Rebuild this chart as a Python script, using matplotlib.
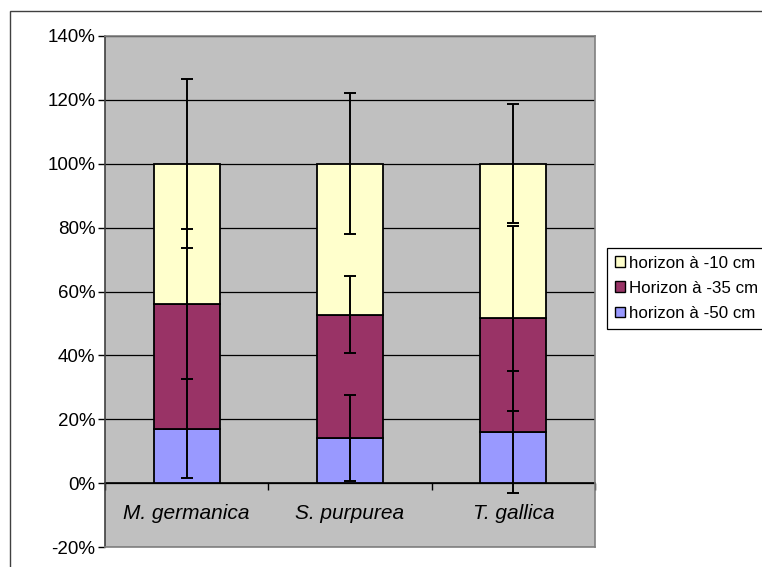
import numpy as np
import matplotlib
matplotlib.use("Agg")
import matplotlib.pyplot as plt
from matplotlib.patches import Rectangle, Patch
from matplotlib.ticker import PercentFormatter

plt.rcParams['font.family'] = ['Liberation Sans', 'DejaVu Sans']
plt.rcParams['axes.unicode_minus'] = False

species = ["M. germanica", "S. purpurea", "T. gallica"]
labels = ["horizon à -50 cm", "Horizon à -35 cm", "horizon à -10 cm"]

# share of each horizon (stacked, sums to 1) and error values
share_50 = [0.171, 0.141, 0.160]
share_35 = [0.391, 0.386, 0.356]
share_10 = [0.438, 0.473, 0.484]
err_50 = [0.156, 0.135, 0.190]
err_35 = [0.235, 0.120, 0.290]
err_10 = [0.265, 0.220, 0.186]

colors = ["#9999FF", "#993366", "#FFFFCC"]
y_ticks = np.arange(-0.2, 1.41, 0.2)

W, H = 762, 567
fig = plt.figure(figsize=(W / 100, H / 100), dpi=100)
ax = fig.add_axes([105 / W, 1 - 547 / H, (595 - 105) / W, (547 - 36) / H])
ax.set_facecolor("#C0C0C0")

x = np.arange(len(species))
shares = [share_50, share_35, share_10]
errs = [err_50, err_35, err_10]
bottom = np.zeros(len(species))
tops = []
for vals, col in zip(shares, colors):
    ax.bar(x, vals, 0.405, bottom=bottom, color=col, edgecolor="black",
           linewidth=1.3, zorder=2)
    bottom = bottom + np.array(vals)
    tops.append(bottom.copy())

for top, e in zip(tops, errs):
    ax.errorbar(x, top, yerr=e, fmt="none", ecolor="black", elinewidth=1.4,
                capsize=4.5, capthick=1.4, zorder=3)

ax.set_xlim(-0.5, 2.5)
ax.set_ylim(-0.2, 1.4)
ax.set_yticks(y_ticks)
ax.yaxis.set_major_formatter(PercentFormatter(1.0, decimals=0))
ax.set_axisbelow(True)
ax.yaxis.grid(True, color="black", linewidth=0.9)
ax.tick_params(axis="y", direction="out", length=5, width=1, pad=2,
               labelsize=13.5, color="black")
ax.tick_params(axis="x", bottom=False, labelbottom=False)

for side in ["top", "right", "bottom"]:
    ax.spines[side].set_color("#808080")
    ax.spines[side].set_linewidth(1.2)
ax.spines["left"].set_color("#404040")
ax.spines["left"].set_linewidth(1.2)

# category axis sits on the 0% line
sec = ax.secondary_xaxis(0, transform=ax.transData)
sec.set_xticks(np.arange(len(species) + 1) - 0.5)
sec.set_xticklabels([])
sec.set_xticks(x, minor=True)
sec.set_xticklabels(species, minor=True, fontstyle="italic", fontsize=15)
sec.tick_params(axis="x", which="major", direction="out", length=5, width=1,
                color="black")
sec.tick_params(axis="x", which="minor", length=0, pad=15)
sec.spines["bottom"].set_color("black")
sec.spines["bottom"].set_linewidth(1.2)

handles = [Patch(facecolor=c, edgecolor="black", linewidth=1) for c in colors]
leg = fig.legend(handles[::-1], labels[::-1], loc="upper left",
                 bbox_to_anchor=(607 / W, 1 - 248 / H), frameon=True,
                 fancybox=False, edgecolor="black", framealpha=1,
                 fontsize=12.2, handlelength=0.6, handleheight=0.6,
                 handletextpad=0.25, borderpad=0.45, labelspacing=0.6,
                 borderaxespad=0)
leg.get_frame().set_linewidth(0.9)

# chart area border (cut off on the right and bottom)
fig.add_artist(Rectangle((10 / W, -0.1), 1.2, 1 - 11 / H + 0.1,
                         transform=fig.transFigure, fill=False,
                         edgecolor="#404040", linewidth=1))

fig.savefig("out.png", dpi=100)
